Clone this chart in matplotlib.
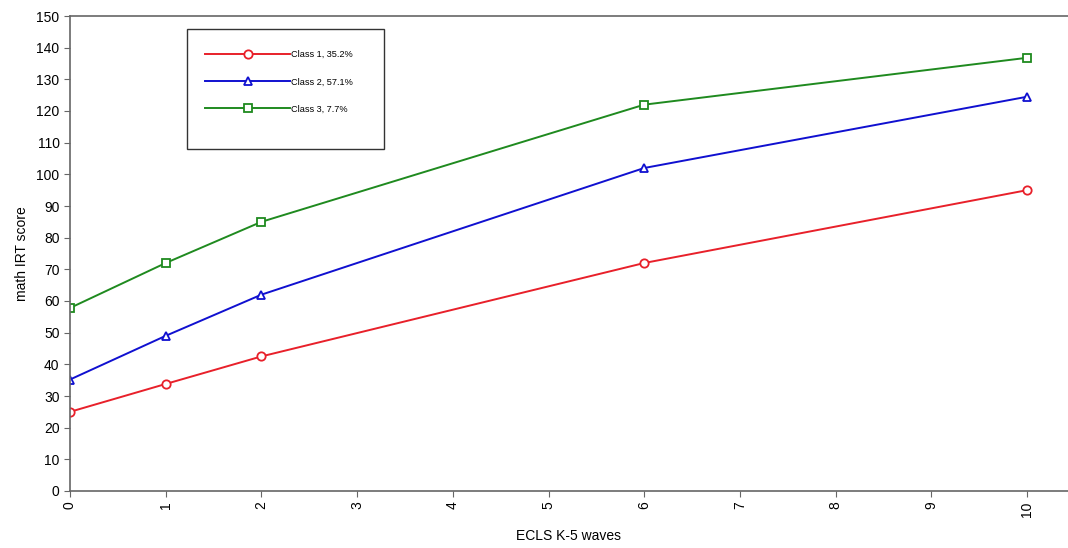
import matplotlib
matplotlib.use("Agg")
import matplotlib.pyplot as plt
from matplotlib.patches import Rectangle

plt.rcParams['font.family'] = ['Liberation Sans', 'DejaVu Sans']

# waves and estimated class means
waves = [0, 1, 2, 6, 10]
class1 = [25.0, 33.8, 42.5, 72.0, 95.0]
class2 = [35.2, 49.0, 62.0, 102.0, 124.5]
class3 = [57.8, 72.0, 85.0, 122.0, 136.8]
labels = ['Class 1, 35.2%', 'Class 2, 57.1%', 'Class 3, 7.7%']
colors = ['#e8202a', '#1010d0', '#1f8a1f']
markers = ['o', '^', 's']

fig = plt.figure(figsize=(10.68, 5.48), dpi=100)
ax = fig.add_axes([70 / 1068, 57 / 548, 998 / 1068, 475 / 548])

for ys, lab, c, m in zip([class1, class2, class3], labels, colors, markers):
    ax.plot(waves, ys, color=c, linewidth=1.4, marker=m, markersize=6,
            markerfacecolor='white', markeredgecolor=c, markeredgewidth=1.3,
            label=lab)

ax.set_xlim(0, 998 / 95.7)
ax.set_ylim(0, 150)
ax.set_xticks(range(0, 11))
ax.set_yticks(range(0, 151, 10))
ax.tick_params(axis='x', labelrotation=90, labelsize=10, length=4, color='#666666')
ax.tick_params(axis='y', labelsize=10, length=4, color='#666666')

for side in ['left', 'bottom', 'top']:
    ax.spines[side].set_color('#666666')
    ax.spines[side].set_linewidth(1.2)
ax.spines['right'].set_visible(False)

ax.set_xlabel('ECLS K-5 waves', fontsize=10, labelpad=9)
ax.set_ylabel('math IRT score', fontsize=10, labelpad=5)

# legend box
fig.patches.append(Rectangle((187 / 1068, (548 - 149) / 548), 197 / 1068, 120 / 548,
                             transform=fig.transFigure, fill=False,
                             edgecolor='#333333', linewidth=1.0))
leg = ax.legend(loc='upper left', bbox_to_anchor=(205 / 1068, (548 - 50) / 548),
                bbox_transform=fig.transFigure, frameon=False, fontsize=6.6,
                handlelength=9.3, handletextpad=0.05, labelspacing=2.0,
                borderpad=0, borderaxespad=0)

fig.savefig('out.png', dpi=100)
